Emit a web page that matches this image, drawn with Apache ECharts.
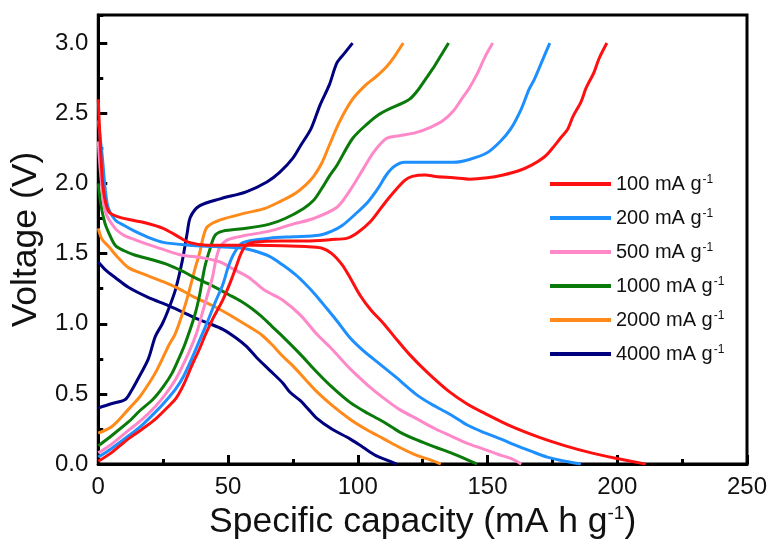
<!DOCTYPE html>
<html>
<head>
<meta charset="utf-8">
<script src="https://cdn.jsdelivr.net/npm/echarts@6/dist/echarts.min.js"></script>
<style>
  html, body { margin: 0; padding: 0; background: #fff; }
  #chart { width: 774px; height: 545px; }
</style>
</head>
<body>
<div id="chart"></div>
<script>
// rates shown in the legend
var rateNames = ['100 mA g', '200 mA g', '500 mA g', '1000 mA g', '2000 mA g', '4000 mA g'];
var rateColors = ['#ff1010', '#1e8fff', '#ff88c8', '#0a7a0a', '#ff8a1a', '#00007f'];

// discharge curves [capacity, voltage]
var dis100 = [[0,2.6],[1,2.2],[2,1.95],[4,1.8],[8,1.76],[18,1.72],[25,1.68],[30,1.63],[35,1.58],[42,1.56],[60,1.56],[80,1.55],[86,1.54],[90,1.5],[94,1.42],[97,1.33],[101,1.2],[105,1.1],[110,1.0],[114,0.91],[120,0.78],[127,0.65],[135,0.52],[142,0.43],[148,0.37],[159,0.27],[170,0.19],[180,0.13],[190,0.08],[200,0.04],[211,0.0]];
var dis200 = [[0,2.45],[1.5,2.2],[3.5,1.85],[6.5,1.74],[10,1.7],[14,1.66],[20,1.61],[25,1.58],[35,1.56],[45,1.55],[55,1.54],[60,1.52],[66,1.48],[71,1.42],[76,1.35],[80,1.28],[84,1.2],[88,1.11],[92,1.02],[97,0.9],[102,0.81],[106,0.75],[114,0.63],[123,0.49],[130,0.41],[136,0.35],[142,0.28],[148,0.23],[155,0.18],[160,0.14],[167,0.09],[173,0.05],[180,0.02],[186,0.0]];
var dis500 = [[0,2.3],[1,2.05],[2.7,1.8],[6.5,1.68],[10,1.63],[14,1.6],[20,1.56],[25,1.53],[32,1.49],[40,1.47],[47,1.44],[52,1.39],[58,1.33],[64,1.24],[71,1.17],[78,1.06],[84,0.93],[90,0.82],[97,0.68],[104,0.56],[110,0.47],[116,0.39],[123,0.32],[130,0.25],[136,0.2],[142,0.15],[148,0.11],[154,0.07],[159,0.04],[163,0.0]];
var dis1000 = [[0,2.0],[1,1.85],[2.5,1.72],[4,1.65],[6.5,1.56],[10,1.52],[14,1.49],[20,1.46],[27,1.42],[33,1.37],[37,1.33],[44,1.27],[50,1.21],[55,1.16],[59,1.11],[63,1.05],[67,0.98],[71,0.91],[78,0.78],[84,0.66],[90,0.55],[97,0.44],[104,0.36],[110,0.3],[116,0.23],[123,0.17],[130,0.12],[136,0.08],[141,0.04],[146,0.0]];
var dis2000 = [[0,1.68],[1.5,1.6],[4,1.55],[7.7,1.47],[11.6,1.4],[18,1.35],[25,1.3],[31,1.25],[37,1.19],[44,1.13],[50,1.07],[58,0.98],[63,0.92],[67,0.85],[71,0.77],[75,0.7],[80,0.6],[84,0.52],[90,0.42],[97,0.32],[103,0.25],[110,0.18],[116,0.12],[123,0.06],[128,0.03],[132,0.0]];
var dis4000 = [[0,1.44],[3,1.38],[6.5,1.33],[11.6,1.26],[19,1.19],[27,1.13],[33,1.08],[37.4,1.04],[43,1.0],[48,0.96],[53,0.9],[57,0.84],[61,0.76],[66,0.67],[71,0.58],[74,0.51],[78,0.45],[81,0.39],[84,0.33],[90,0.25],[97,0.18],[102,0.12],[107,0.06],[111,0.03],[115,0.0]];

// charge curves [capacity, voltage]
var chg100 = [[0,0.02],[5,0.08],[11.6,0.18],[17,0.25],[22,0.32],[27,0.41],[30,0.47],[33,0.57],[36,0.7],[39,0.82],[41,0.91],[44,1.03],[48,1.17],[51,1.3],[53,1.4],[55,1.5],[57,1.56],[60,1.58],[70,1.59],[80,1.59],[90,1.6],[96,1.61],[100,1.65],[105,1.73],[110,1.85],[114,1.94],[118,2.02],[121,2.05],[126,2.06],[130,2.05],[137,2.04],[143,2.03],[150,2.04],[156,2.06],[162,2.09],[167,2.13],[172,2.19],[175,2.25],[178,2.32],[181,2.39],[183,2.48],[186,2.58],[188,2.68],[191,2.79],[193,2.89],[196,3.0]];
var chg200 = [[0,0.05],[5,0.11],[11.6,0.2],[17,0.28],[22,0.37],[26,0.45],[30,0.54],[33,0.63],[36,0.75],[39,0.88],[42,1.01],[45,1.15],[48,1.28],[50,1.4],[52,1.49],[55,1.57],[58,1.59],[66,1.61],[75,1.62],[85,1.63],[90,1.66],[94,1.7],[99,1.78],[104,1.87],[108,1.97],[111,2.06],[114,2.12],[118,2.15],[128,2.15],[137,2.15],[143,2.17],[150,2.22],[155,2.3],[159,2.39],[163,2.53],[166,2.67],[168,2.74],[171,2.87],[174,3.0]];
var chg500 = [[0,0.08],[5,0.14],[11.6,0.24],[17,0.32],[22,0.41],[26,0.5],[30,0.61],[35,0.8],[38,0.94],[40,1.07],[42,1.2],[44,1.33],[45.5,1.47],[47,1.55],[50,1.6],[57,1.63],[66,1.66],[75,1.71],[83,1.75],[92,1.83],[97,1.95],[102,2.1],[106,2.22],[111,2.32],[116,2.34],[122,2.36],[128,2.4],[133,2.45],[137,2.52],[140,2.6],[143,2.68],[146,2.78],[149,2.9],[152,3.0]];
var chg1000 = [[0,0.13],[5,0.2],[11.6,0.3],[16,0.38],[21,0.46],[25,0.55],[28.5,0.65],[31,0.75],[33.5,0.86],[37,1.05],[39,1.2],[41,1.4],[43,1.53],[45,1.63],[48,1.66],[57,1.68],[66,1.71],[72,1.75],[79,1.82],[83,1.88],[86,1.96],[89,2.05],[92,2.13],[98,2.32],[104,2.43],[108,2.49],[112,2.53],[117,2.57],[120,2.6],[123,2.66],[126,2.74],[129,2.82],[132,2.91],[135,3.0]];
var chg2000 = [[0,0.22],[5.4,0.27],[11.6,0.39],[16,0.48],[19,0.56],[22,0.65],[24.7,0.75],[27,0.84],[29.7,0.93],[32.4,1.07],[34.7,1.21],[37.4,1.4],[39,1.5],[40.5,1.62],[42,1.69],[47,1.74],[57,1.79],[64,1.82],[70,1.87],[76,1.93],[80,1.99],[83,2.05],[86,2.14],[89,2.27],[93,2.44],[98,2.6],[103,2.7],[107,2.76],[111,2.83],[114,2.9],[117.5,3.0]];
var chg4000 = [[0,0.4],[5,0.43],[10.4,0.46],[13,0.53],[15.4,0.61],[19.3,0.75],[22,0.91],[24.7,1.0],[27,1.1],[29.7,1.24],[32.4,1.45],[34.3,1.65],[35.5,1.76],[39,1.84],[47,1.89],[57,1.94],[65,2.01],[70,2.08],[75,2.18],[78,2.27],[82,2.39],[85.5,2.56],[89,2.7],[92,2.86],[95,2.93],[98,3.0]];

var xTicks = { min: 0, max: 250, major: 50, minor: 25 };
var yTicks = { min: 0, max: 3.2, major: 0.5, minor: 0.25 };

var disList = [dis100, dis200, dis500, dis1000, dis2000, dis4000];
var chgList = [chg100, chg200, chg500, chg1000, chg2000, chg4000];

var font = 'Liberation Sans, Arial, sans-serif';
var seriesList = [];
for (var i = 0; i < rateNames.length; i++) {
    [disList[i], chgList[i]].forEach(function (d) {
        seriesList.push({
            type: 'line',
            name: rateNames[i],
            data: d,
            xAxisIndex: 0,
            yAxisIndex: 0,
            smooth: 0.3,
            symbol: 'none',
            color: rateColors[i],
            lineStyle: { width: 3, color: rateColors[i] },
            z: 10 - i
        });
    });
}

var chart = echarts.init(document.getElementById('chart'));
var option = {
    animation: false,
    grid: {
        left: 98, right: 27, top: 15, bottom: 76,
        show: true, borderColor: '#000', borderWidth: 3
    },
    legend: {
        data: rateNames,
        orient: 'vertical',
        left: 545,
        top: 169,
        icon: 'rect',
        itemWidth: 61,
        itemHeight: 4,
        itemGap: 14,
        formatter: function (name) {
            return '{a|' + name + '}{s|-1}';
        },
        textStyle: {
            fontFamily: font,
            color: '#111',
            rich: {
                a: { fontSize: 20, lineHeight: 20, fontFamily: font, color: '#111' },
                s: { fontSize: 12, lineHeight: 12, verticalAlign: 'top', fontFamily: font, color: '#111', padding: [0, 0, 6, 1] }
            }
        }
    },
    xAxis: [{
        type: 'value',
        min: xTicks.min, max: xTicks.max, interval: xTicks.major,
        name: '{a|Specific capacity (mA h g}{s|-1}{a|)}',
        nameLocation: 'middle',
        nameGap: 34,
        nameTextStyle: {
            rich: {
                a: { fontSize: 35.5, lineHeight: 36, fontFamily: font, color: '#111' },
                s: { fontSize: 19, lineHeight: 19, verticalAlign: 'top', fontFamily: font, color: '#111' }
            }
        },
        axisLine: { lineStyle: { color: '#000', width: 3 } },
        axisTick: { inside: true, length: 9, lineStyle: { color: '#000', width: 3 } },
        axisLabel: { fontSize: 24, fontFamily: font, color: '#111', margin: 11 },
        splitLine: { show: false }
    }, {
        type: 'value',
        position: 'bottom',
        min: xTicks.min, max: xTicks.max, interval: xTicks.minor,
        axisLine: { show: false },
        axisTick: { inside: true, length: 5, lineStyle: { color: '#000', width: 3 } },
        axisLabel: { show: false },
        splitLine: { show: false }
    }],
    yAxis: [{
        type: 'value',
        min: yTicks.min, max: yTicks.max, interval: yTicks.major,
        name: 'Voltage (V)',
        nameLocation: 'middle',
        nameGap: 52,
        nameTextStyle: { fontSize: 35.5, fontFamily: font, color: '#111' },
        axisLine: { lineStyle: { color: '#000', width: 3 } },
        axisTick: { inside: true, length: 9, lineStyle: { color: '#000', width: 3 } },
        axisLabel: {
            fontSize: 24, fontFamily: font, color: '#111', margin: 10,
            showMaxLabel: false,
            formatter: function (v) { return v.toFixed(1); }
        },
        splitLine: { show: false }
    }, {
        type: 'value',
        position: 'left',
        min: yTicks.min, max: yTicks.max, interval: yTicks.minor,
        axisLine: { show: false },
        axisTick: { inside: true, length: 5, lineStyle: { color: '#000', width: 3 } },
        axisLabel: { show: false },
        splitLine: { show: false }
    }],
    series: seriesList
};
chart.setOption(option);
</script>
</body>
</html>
